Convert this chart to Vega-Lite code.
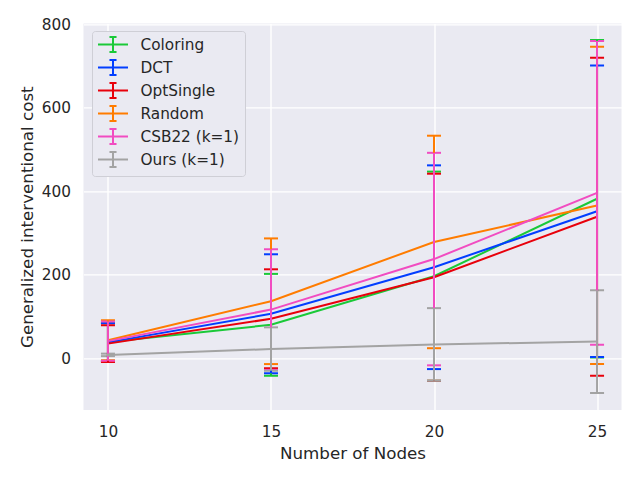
{
  "$schema": "https://vega.github.io/schema/vega-lite/v6.json",
  "autosize": {"type": "none"},
  "width": 538,
  "height": 386.6,
  "padding": {"left": 83.5, "top": 23.4, "right": 18.5, "bottom": 70},
  "background": "white",
  "data": {
    "values": [
      {"nodes": 10, "method": "Coloring", "mean": 39, "std": 45},
      {"nodes": 10, "method": "DCT", "mean": 38, "std": 46},
      {"nodes": 10, "method": "OptSingle", "mean": 35, "std": 44},
      {"nodes": 10, "method": "Random", "mean": 43, "std": 48},
      {"nodes": 10, "method": "CSB22 (k=1)", "mean": 41, "std": 47},
      {"nodes": 10, "method": "Ours (k=1)", "mean": 8, "std": 3},
      {"nodes": 15, "method": "Coloring", "mean": 80, "std": 122},
      {"nodes": 15, "method": "DCT", "mean": 106.5, "std": 142.5},
      {"nodes": 15, "method": "OptSingle", "mean": 94.5, "std": 118.5},
      {"nodes": 15, "method": "Random", "mean": 136.5, "std": 150.5},
      {"nodes": 15, "method": "CSB22 (k=1)", "mean": 116.5, "std": 144.5},
      {"nodes": 15, "method": "Ours (k=1)", "mean": 22, "std": 52},
      {"nodes": 20, "method": "Coloring", "mean": 196.5, "std": 250.5},
      {"nodes": 20, "method": "DCT", "mean": 218, "std": 244},
      {"nodes": 20, "method": "OptSingle", "mean": 194, "std": 248},
      {"nodes": 20, "method": "Random", "mean": 278.5, "std": 254.5},
      {"nodes": 20, "method": "CSB22 (k=1)", "mean": 237.5, "std": 254.5},
      {"nodes": 20, "method": "Ours (k=1)", "mean": 33, "std": 87},
      {"nodes": 25, "method": "Coloring", "mean": 382, "std": 380},
      {"nodes": 25, "method": "DCT", "mean": 352, "std": 349},
      {"nodes": 25, "method": "OptSingle", "mean": 339, "std": 381},
      {"nodes": 25, "method": "Random", "mean": 366, "std": 380},
      {"nodes": 25, "method": "CSB22 (k=1)", "mean": 396, "std": 364},
      {"nodes": 25, "method": "Ours (k=1)", "mean": 40, "std": 123}
    ]
  },
  "encoding": {
    "x": {
      "field": "nodes",
      "type": "quantitative",
      "scale": {"domain": [9.25, 25.75], "nice": false, "zero": false},
      "axis": {"values": [10, 15, 20, 25], "title": "Number of Nodes", "titlePadding": 6}
    },
    "color": {
      "field": "method",
      "type": "nominal",
      "scale": {
        "domain": ["Coloring", "DCT", "OptSingle", "Random", "CSB22 (k=1)", "Ours (k=1)"],
        "range": ["#1ac938", "#023eff", "#e8000b", "#ff7c00", "#f14cc1", "#a3a3a3"]
      },
      "legend": {
        "title": null,
        "orient": "none",
        "legendX": 8.5,
        "legendY": 7.6
      }
    }
  },
  "layer": [
    {
      "mark": {"type": "line", "strokeWidth": 2, "opacity": 1},
      "encoding": {
        "y": {
          "field": "mean",
          "type": "quantitative",
          "title": "Generalized interventional cost",
          "scale": {"domain": [-124, 802], "nice": false, "zero": false},
          "axis": {"values": [0, 200, 400, 600, 800], "titlePadding": 5}
        }
      }
    },
    {
      "mark": {"type": "errorbar", "thickness": 2, "opacity": 1, "ticks": {"size": 14, "thickness": 2}},
      "encoding": {
        "y": {"field": "mean", "type": "quantitative", "title": "Generalized interventional cost"},
        "yError": {"field": "std"}
      }
    }
  ],
  "config": {
    "font": "DejaVu Sans",
    "view": {"stroke": null, "fill": "#EAEAF2"},
    "axis": {
      "domain": false,
      "ticks": false,
      "grid": true,
      "gridColor": "white",
      "gridWidth": 1.4,
      "labelFont": "DejaVu Sans",
      "labelFontSize": 15.3,
      "labelColor": "#262626",
      "labelPadding": 13,
      "titleFont": "DejaVu Sans",
      "titleFontSize": 16.7,
      "titleFontWeight": "normal",
      "titleColor": "#262626"
    },
    "axisX": {"labelPadding": 14},
    "legend": {
      "symbolType": "M-2,0H2M0,-1V1M-0.47,-1H0.47M-0.47,1H0.47",
      "symbolSize": 225,
      "symbolOffset": 7.5,
      "symbolStrokeWidth": 2,
      "symbolOpacity": 1,
      "labelFont": "DejaVu Sans",
      "labelFontSize": 15.3,
      "labelColor": "#262626",
      "labelOffset": 19,
      "rowPadding": 0,
      "padding": 5,
      "fillColor": "#EAEAF2",
      "strokeColor": "#cfcfd6",
      "cornerRadius": 3
    }
  }
}
